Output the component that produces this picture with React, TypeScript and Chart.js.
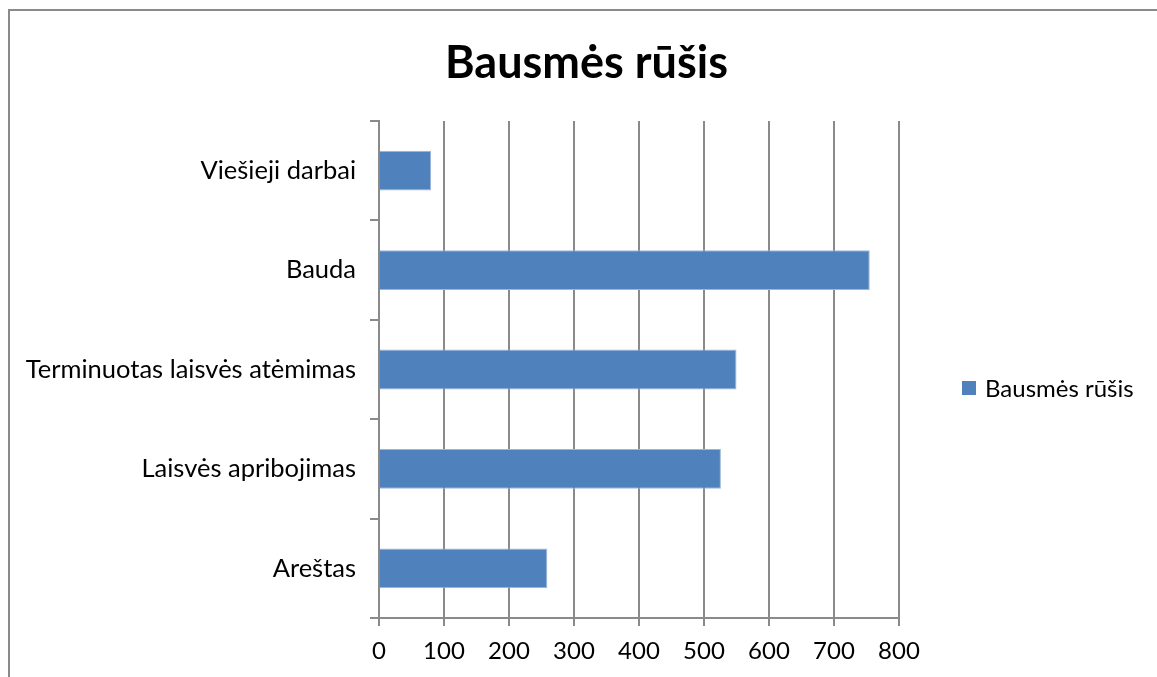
import { useEffect, useRef } from 'react';
import { Chart, registerables } from 'chart.js';

Chart.register(...registerables);

const categories = [
  'Viešieji darbai',
  'Bauda',
  'Terminuotas laisvės atėmimas',
  'Laisvės apribojimas',
  'Areštas',
];
const seriesName = 'Bausmės rūšis';
const values = [80, 755, 550, 526, 259];
const xMin = 0;
const xMax = 800;
const xStep = 100;

const FONT = 'Lato, "Open Sans", sans-serif';
const GRID = '#8a8a8a';
const BAR = '#4F81BD';

export default function App() {
  const ref = useRef<HTMLCanvasElement | null>(null);

  useEffect(() => {
    if (!ref.current) return;
    const chart = new Chart(ref.current, {
      type: 'bar',
      data: {
        labels: categories,
        datasets: [
          {
            label: seriesName,
            data: values,
            backgroundColor: BAR,
            borderColor: '#9DB6D8',
            borderWidth: 1,
            barPercentage: 0.4,
            categoryPercentage: 1,
          },
        ],
      },
      options: {
        indexAxis: 'y',
        responsive: false,
        animation: false,
        layout: { padding: 0 },
        plugins: {
          legend: { display: false },
          tooltip: { enabled: false },
          title: {
            display: true,
            text: seriesName,
            color: '#000',
            font: { family: FONT, size: 45, weight: 'bold', lineHeight: 1.2 },
            padding: { top: 27, bottom: 31 },
          },
        },
        scales: {
          x: {
            min: xMin,
            max: xMax,
            ticks: {
              stepSize: xStep,
              color: '#000',
              font: { family: FONT, size: 24 },
              padding: 11,
            },
            grid: {
              color: GRID,
              lineWidth: 2,
              tickLength: 8,
              drawTicks: true,
            },
            border: { color: GRID, width: 2 },
            afterFit: (s: any) => {
              s.height = 68;
            },
          },
          y: {
            ticks: {
              color: '#000',
              font: { family: FONT, size: 25.5 },
              padding: 14,
            },
            grid: {
              drawOnChartArea: false,
              color: GRID,
              lineWidth: 2,
              tickLength: 9,
            },
            border: { color: GRID, width: 2 },
            afterFit: (s: any) => {
              s.width = 371;
            },
          },
          legendSpace: {
            type: 'linear',
            axis: 'y',
            position: 'right',
            display: true,
            ticks: { display: false },
            grid: { display: false },
            border: { display: false },
            afterFit: (s: any) => {
              s.width = 266;
            },
          } as any,
        },
      },
    });
    return () => chart.destroy();
  }, []);

  return (
    <div
      style={{
        position: 'fixed',
        left: 0,
        top: 0,
        width: 1157,
        height: 677,
        overflow: 'hidden',
        background: '#fff',
      }}
    >
      <div
        style={{
          position: 'absolute',
          left: 8,
          top: 9,
          width: 1200,
          height: 700,
          borderTop: '2px solid #8a8a8a',
          borderLeft: '2px solid #8a8a8a',
          boxSizing: 'border-box',
        }}
      />
      <div style={{ position: 'absolute', left: 8, top: 9, width: 1157, height: 677 }}>
        <canvas ref={ref} width={1157} height={677} />
      </div>
      <div
        style={{
          position: 'absolute',
          left: 962,
          top: 372,
          display: 'flex',
          alignItems: 'center',
          fontFamily: FONT,
          fontSize: 24,
          lineHeight: '32px',
          color: '#000',
          whiteSpace: 'nowrap',
        }}
      >
        <span
          style={{
            display: 'inline-block',
            width: 14,
            height: 14,
            background: BAR,
            marginRight: 9,
          }}
        />
        <span>{seriesName}</span>
      </div>
    </div>
  );
}
